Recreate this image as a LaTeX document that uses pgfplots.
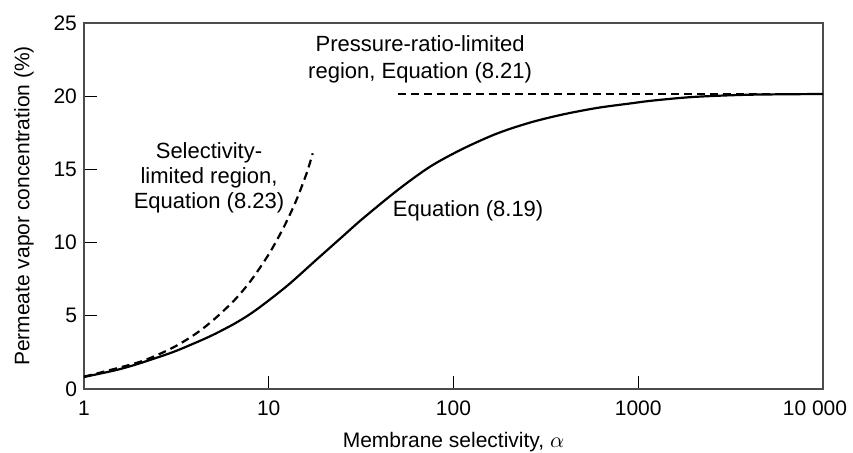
\documentclass[border=0pt]{standalone}
\usepackage{fontspec}
\setmainfont{Liberation Sans}
\usepackage{pgfplots}
\pgfplotsset{compat=1.18}
\begin{document}
\begin{tikzpicture}
\begin{axis}[
    scale only axis,
    width=369.5pt, height=183pt,
    xmode=log,
    xmin=1, xmax=10000,
    ymin=0, ymax=25,
    xtick={1,10,100,1000,10000},
    xticklabels={1,10,100,1000,\makebox[0pt]{\hspace*{-8pt}10~000}},
    ytick={0,5,10,15,20,25},
    xminorticks=false, yminorticks=false,
    tick align=inside,
    major tick length=6.5pt,
    xtick pos=bottom, ytick pos=left,
    axis line style={draw=black!70, line width=0.6pt},
    tick style={black, line width=0.5pt},
    /pgf/number format/assume math mode=true,
    tick label style={font=\fontsize{10.5}{12}\selectfont},
    xticklabel style={yshift=-2.5pt},
    label style={font=\fontsize{10.5}{12}\selectfont},
    xlabel={Membrane selectivity, $\alpha$},
    ylabel={Permeate vapor concentration (\%)},
    xlabel style={yshift=-1.5pt},
    ylabel style={yshift=3pt},
    clip=false,
]
% Equation (8.19)
\addplot[black, line width=1.1pt, smooth] coordinates {
    (1,0.82)(1.5,1.3)(2,1.75)(3,2.5)(4,3.15)(5,3.7)(6.5,4.45)(8,5.15)(10,6.05)
    (13,7.2)(18,8.8)(25,10.4)(32,11.6)(50,13.6)(75,15.2)(112,16.4)(172,17.45)
    (260,18.2)(390,18.75)(600,19.2)(900,19.5)(1200,19.7)(2000,19.95)
    (4000,20.1)(10000,20.15)
};
% Equation (8.23)
\addplot[black, line width=1.1pt, dash pattern=on 4pt off 2.5pt, smooth] coordinates {
    (1,0.84)(2,1.85)(3,2.8)(4,3.75)(5,4.7)(6.5,6.05)(8,7.4)(10,9.2)
    (12,11.0)(14,12.8)(16,14.7)(17.3,16.1)
};
% Equation (8.21)
\addplot[black, line width=1.1pt, dash pattern=on 4pt off 2.5pt] coordinates {
    (50,20.15)(10000,20.15)
};
\node[align=center, font=\fontsize{11}{13.5}\selectfont] at (axis cs:66,22.5)
    {Pressure-ratio-limited\\region, Equation (8.21)};
\node[align=center, font=\fontsize{11}{12.5}\selectfont] at (axis cs:4.75,14.4)
    {Selectivity-\\limited region,\\Equation (8.23)};
\node[font=\fontsize{11}{13}\selectfont] at (axis cs:120,12.2) {Equation (8.19)};
\coordinate (bl) at (rel axis cs:0,0);
\coordinate (tr) at (rel axis cs:1,1);
\end{axis}
\pgfresetboundingbox
\path ([shift={(-42pt,-32pt)}]bl) rectangle ([shift={(15pt,11.5pt)}]tr);
\end{tikzpicture}
\end{document}
